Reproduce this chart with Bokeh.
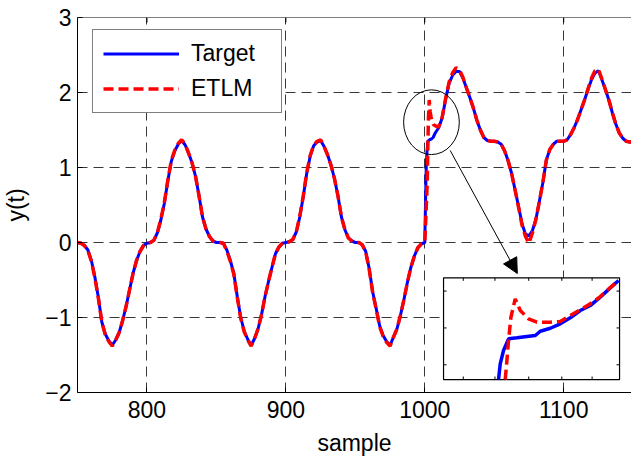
from bokeh.plotting import figure
from bokeh.models import (Range1d, FixedTicker, Legend, LegendItem, Span,
                          Arrow, NormalHead)
from bokeh.embed import file_html
from bokeh.resources import INLINE

# ---------------- data ----------------
x_ticks = [800, 900, 1000, 1100]
y_ticks = [-2, -1, 0, 1, 2, 3]

target_sample = [
    750, 752.5, 755, 757.5, 760, 762.5, 765, 767.5, 770, 772.5, 775, 777.5, 780, 782.5, 785, 787.5,
    790, 792.5, 795, 797.5, 800, 802.5, 805, 807.5, 810, 812.5, 815, 817.5, 820, 822.5, 825, 827.5,
    830, 832.5, 835, 837.5, 840, 842.5, 845, 847.5, 850, 852.5, 855, 857.5, 860, 862.5, 865, 867.5,
    870, 872.5, 875, 877.5, 880, 882.5, 885, 887.5, 890, 892.5, 895, 897.5, 900, 902.5, 905, 907.5,
    910, 912.5, 915, 917.5, 920, 922.5, 925, 927.5, 930, 932.5, 935, 937.5, 940, 942.5, 945, 947.5,
    950, 952.5, 955, 957.5, 960, 962.5, 965, 967.5, 970, 972.5, 975, 977.5, 980, 982.5, 985, 987.5,
    990, 992.5, 995, 997.5, 1000,
    1000.8, 1001.05, 1001.5, 1002.2, 1003.4, 1004.8, 1006.0,
    1007.5, 1010, 1012.5, 1015, 1017.5, 1020, 1022.5, 1025, 1027.5, 1030, 1032.5, 1035, 1037.5,
    1040, 1042.5, 1045, 1047.5, 1050, 1052.5, 1055, 1057.5, 1060, 1062.5, 1065, 1067.5, 1070,
    1072.5, 1075, 1077.5, 1080, 1082.5, 1085, 1087.5, 1090, 1092.5, 1095, 1097.5, 1100, 1102.5,
    1105, 1107.5, 1110, 1112.5, 1115, 1117.5, 1120, 1122.5, 1125, 1127.5, 1130, 1132.5, 1135,
    1137.5, 1140, 1142.5, 1145, 1147.5, 1150]
target = [
    0.00, -0.01, -0.04, -0.10, -0.24, -0.46, -0.73, -1.06, -1.22, -1.31, -1.37, -1.30, -1.20, -1.04, -0.85, -0.63,
    -0.41, -0.24, -0.12, -0.04, -0.01, 0.00, 0.03, 0.13, 0.30, 0.52, 0.82, 1.08, 1.22, 1.31, 1.36, 1.30,
    1.19, 1.06, 0.88, 0.62, 0.34, 0.18, 0.08, 0.02, 0.00, 0.00, -0.01, -0.10, -0.24, -0.41, -0.72, -1.00,
    -1.18, -1.29, -1.37, -1.28, -1.15, -0.96, -0.72, -0.52, -0.33, -0.15, -0.06, -0.01, 0.00, 0.01, 0.04, 0.14,
    0.34, 0.61, 0.92, 1.15, 1.29, 1.34, 1.36, 1.28, 1.17, 1.03, 0.85, 0.62, 0.34, 0.17, 0.06, 0.02,
    0.00, 0.00, -0.03, -0.12, -0.35, -0.66, -0.88, -1.11, -1.24, -1.32, -1.37, -1.26, -1.15, -0.97, -0.76, -0.53,
    -0.33, -0.18, -0.07, -0.02, 0.00,
    0.80, 1.01, 1.19, 1.35, 1.37, 1.38, 1.40,
    1.46, 1.53, 1.66, 1.91, 2.12, 2.23, 2.28, 2.28, 2.19, 2.06, 1.93, 1.79, 1.63,
    1.50, 1.40, 1.36, 1.35, 1.35, 1.34, 1.31, 1.22, 1.09, 0.92, 0.70, 0.48, 0.25,
    0.11, 0.09, 0.16, 0.31, 0.55, 0.80, 1.10, 1.24, 1.31, 1.35, 1.35, 1.35, 1.37,
    1.44, 1.53, 1.64, 1.77, 1.90, 2.04, 2.17, 2.26, 2.29, 2.17, 2.04, 1.90, 1.73,
    1.58, 1.46, 1.39, 1.35, 1.34, 1.34]

etlm_sample = [
    750, 752.5, 755, 757.5, 760, 762.5, 765, 767.5, 770, 772.5, 775, 777.5, 780, 782.5, 785, 787.5,
    790, 792.5, 795, 797.5, 800, 802.5, 805, 807.5, 810, 812.5, 815, 817.5, 820, 822.5, 825, 827.5,
    830, 832.5, 835, 837.5, 840, 842.5, 845, 847.5, 850, 852.5, 855, 857.5, 860, 862.5, 865, 867.5,
    870, 872.5, 875, 877.5, 880, 882.5, 885, 887.5, 890, 892.5, 895, 897.5, 900, 902.5, 905, 907.5,
    910, 912.5, 915, 917.5, 920, 922.5, 925, 927.5, 930, 932.5, 935, 937.5, 940, 942.5, 945, 947.5,
    950, 952.5, 955, 957.5, 960, 962.5, 965, 967.5, 970, 972.5, 975, 977.5, 980, 982.5, 985, 987.5,
    990, 992.5, 995, 997.5, 1000,
    1000.8, 1001.3, 1001.75, 1002.0, 1002.25, 1002.6, 1003.2, 1003.9, 1005.0, 1006.3, 1008.2,
    1010, 1012.5, 1015, 1017.5, 1020, 1022.5, 1025, 1027.5, 1030, 1032.5, 1035, 1037.5,
    1040, 1042.5, 1045, 1047.5, 1050, 1052.5, 1055, 1057.5, 1060, 1062.5, 1065, 1067.5, 1070,
    1072.5, 1075, 1077.5, 1080, 1082.5, 1085, 1087.5, 1090, 1092.5, 1095, 1097.5, 1100, 1102.5,
    1105, 1107.5, 1110, 1112.5, 1115, 1117.5, 1120, 1122.5, 1125, 1127.5, 1130, 1132.5, 1135,
    1137.5, 1140, 1142.5, 1145, 1147.5, 1150]
etlm = [
    0.00, -0.01, -0.04, -0.11, -0.25, -0.47, -0.74, -1.06, -1.23, -1.32, -1.38, -1.30, -1.20, -1.04, -0.85, -0.63,
    -0.41, -0.24, -0.12, -0.04, -0.01, 0.00, 0.03, 0.13, 0.31, 0.53, 0.83, 1.09, 1.23, 1.32, 1.37, 1.31,
    1.19, 1.06, 0.88, 0.62, 0.34, 0.18, 0.08, 0.02, 0.00, 0.00, -0.01, -0.11, -0.25, -0.42, -0.73, -1.01,
    -1.19, -1.30, -1.38, -1.28, -1.15, -0.96, -0.72, -0.52, -0.33, -0.15, -0.06, -0.01, 0.00, 0.01, 0.04, 0.14,
    0.35, 0.62, 0.93, 1.16, 1.30, 1.35, 1.37, 1.28, 1.17, 1.03, 0.85, 0.62, 0.34, 0.17, 0.06, 0.02,
    0.00, 0.00, -0.03, -0.13, -0.36, -0.67, -0.89, -1.12, -1.25, -1.33, -1.38, -1.26, -1.15, -0.97, -0.76, -0.53,
    -0.33, -0.18, -0.07, -0.02, 0.00,
    0.36, 0.58, 0.79, 1.06, 1.33, 1.65, 1.90, 1.74, 1.62, 1.57, 1.55,
    1.54, 1.67, 1.92, 2.14, 2.26, 2.33, 2.30, 2.20, 2.06, 1.93, 1.79, 1.63,
    1.50, 1.40, 1.36, 1.35, 1.35, 1.34, 1.31, 1.22, 1.09, 0.92, 0.70, 0.47, 0.23,
    0.08, -0.01, 0.13, 0.31, 0.55, 0.80, 1.10, 1.24, 1.31, 1.35, 1.35, 1.35, 1.37,
    1.44, 1.53, 1.64, 1.77, 1.90, 2.05, 2.19, 2.29, 2.31, 2.18, 2.04, 1.90, 1.73,
    1.58, 1.46, 1.39, 1.35, 1.34, 1.34]

# zoomed inset (own coordinates)
inset_x_range = (993, 1018)
inset_y_range = (0.8, 2.18)
inset_xticks = [995.8, 1000.3, 1005.1, 1009.8, 1014.1]
inset_yticks = [1.0, 1.5, 2.0]
inset_target_sample = [1000.81, 1001.05, 1001.52, 1002.23, 1003.43, 1004.85, 1006.03, 1006.74,
                       1008.16, 1009.58, 1011.0, 1012.42, 1013.84, 1015.26, 1016.68, 1017.86]
inset_target = [0.80, 1.013, 1.194, 1.352, 1.366, 1.384, 1.397, 1.455,
                1.496, 1.556, 1.637, 1.736, 1.804, 1.917, 2.044, 2.143]
inset_etlm_sample = [1001.76, 1002.0, 1002.23, 1002.57, 1003.18, 1003.9, 1005.07, 1006.27,
                     1008.16, 1009.58, 1011.0, 1012.42, 1013.84, 1015.26, 1016.68, 1017.86]
inset_etlm = [0.80, 1.058, 1.329, 1.645, 1.895, 1.736, 1.624, 1.578,
              1.578, 1.587, 1.668, 1.746, 1.827, 1.926, 2.048, 2.143]

# ---------------- layout / style constants ----------------
FONT = "Liberation Sans"
FS = "23px"
X_START, X_END = 750, 1148.8
Y_START, Y_END = -2, 3
INSET_TARGET_X = (1013.5, 1140.2)
INSET_TARGET_Y = (-1.827, -0.471)

p = figure(width=631, height=460, output_backend="svg", toolbar_location=None,
           x_range=Range1d(X_START, X_END), y_range=Range1d(Y_START, Y_END),
           min_border_left=77, min_border_right=0, min_border_top=17,
           min_border_bottom=68, background_fill_color="white",
           border_fill_color="white")
p.outline_line_color = None

for ax, tk in ((p.xaxis[0], x_ticks), (p.yaxis[0], y_ticks)):
    ax.ticker = FixedTicker(ticks=tk)
    ax.major_tick_in = 5
    ax.major_tick_out = 0
    ax.minor_tick_in = 0
    ax.minor_tick_out = 0
    ax.axis_line_color = "black"
    ax.major_tick_line_color = "black"
    ax.major_label_text_font = FONT
    ax.major_label_text_font_size = FS
    ax.major_label_text_color = "black"
    ax.axis_label_text_font = FONT
    ax.axis_label_text_font_size = FS
    ax.axis_label_text_font_style = "normal"
    ax.axis_label_text_color = "black"

p.xaxis.axis_label = "sample"
p.yaxis.axis_label = "y(t)"
p.xaxis.major_label_standoff = 8
p.xaxis.axis_label_standoff = 9
p.yaxis.major_label_standoff = 6
p.yaxis.axis_label_standoff = 13

for g in (p.xgrid[0], p.ygrid[0]):
    g.grid_line_color = "#383838"
    g.grid_line_dash = "10 6"
    g.grid_line_width = 1
p.xgrid.ticker = FixedTicker(ticks=x_ticks)
p.ygrid.ticker = FixedTicker(ticks=y_ticks)

# top border and inward top ticks
p.add_layout(Span(location=Y_END, dimension="width", line_color="black", line_width=1))
p.segment(x0=x_ticks, x1=x_ticks, y0=[Y_END] * len(x_ticks), y1=[Y_END - 0.067] * len(x_ticks),
          line_color="black", line_width=1)

r_t = p.line(target_sample, target, line_color="#0000FF", line_width=3)
r_e = p.line(etlm_sample, etlm, line_color="#FF0000", line_width=3.5, line_dash="10 5")

# ellipse highlighting the step region
p.ellipse(x=[1004.8], y=[1.604], width=40.1, height=0.863,
          fill_color=None, line_color="black", line_width=1)

p.add_layout(Arrow(end=NormalHead(size=15, fill_color="black", line_color="black"),
                   x_start=1018.3, y_start=1.227, x_end=1066.6, y_end=-0.413,
                   line_color="black", line_width=1))

# inset
sub = p.subplot(x_source=Range1d(*inset_x_range), y_source=Range1d(*inset_y_range),
                x_target=Range1d(*INSET_TARGET_X), y_target=Range1d(*INSET_TARGET_Y))
sub.quad(left=[inset_x_range[0]], right=[inset_x_range[1]],
         bottom=[inset_y_range[0]], top=[inset_y_range[1]],
         fill_color="white", line_color="black", line_width=1.2)
tx = 0.43
ty = 0.041
sub.segment(x0=[inset_x_range[0]] * len(inset_yticks), x1=[inset_x_range[0] + tx] * len(inset_yticks),
            y0=inset_yticks, y1=inset_yticks, line_color="black", line_width=1)
sub.segment(x0=[inset_x_range[1]] * len(inset_yticks), x1=[inset_x_range[1] - tx] * len(inset_yticks),
            y0=inset_yticks, y1=inset_yticks, line_color="black", line_width=1)
sub.segment(x0=inset_xticks, x1=inset_xticks, y0=[inset_y_range[0]] * len(inset_xticks),
            y1=[inset_y_range[0] + ty] * len(inset_xticks), line_color="black", line_width=1)
sub.segment(x0=inset_xticks, x1=inset_xticks, y0=[inset_y_range[1]] * len(inset_xticks),
            y1=[inset_y_range[1] - ty] * len(inset_xticks), line_color="black", line_width=1)
sub.line(inset_target_sample, inset_target, line_color="#0000FF", line_width=3.5)
sub.line(inset_etlm_sample, inset_etlm, line_color="#FF0000", line_width=3.5, line_dash="10 5")

legend = Legend(items=[LegendItem(label="Target", renderers=[r_t]),
                       LegendItem(label="ETLM", renderers=[r_e])],
                location=(15, 279), margin=0, padding=10, spacing=8,
                glyph_width=76, glyph_height=27, label_standoff=12, label_width=80,
                label_text_font=FONT, label_text_font_size=FS, label_text_color="black",
                border_line_color="black", border_line_width=1,
                background_fill_color="white", background_fill_alpha=1.0)
p.add_layout(legend)

open("out.html", "w").write(file_html(p, INLINE))
